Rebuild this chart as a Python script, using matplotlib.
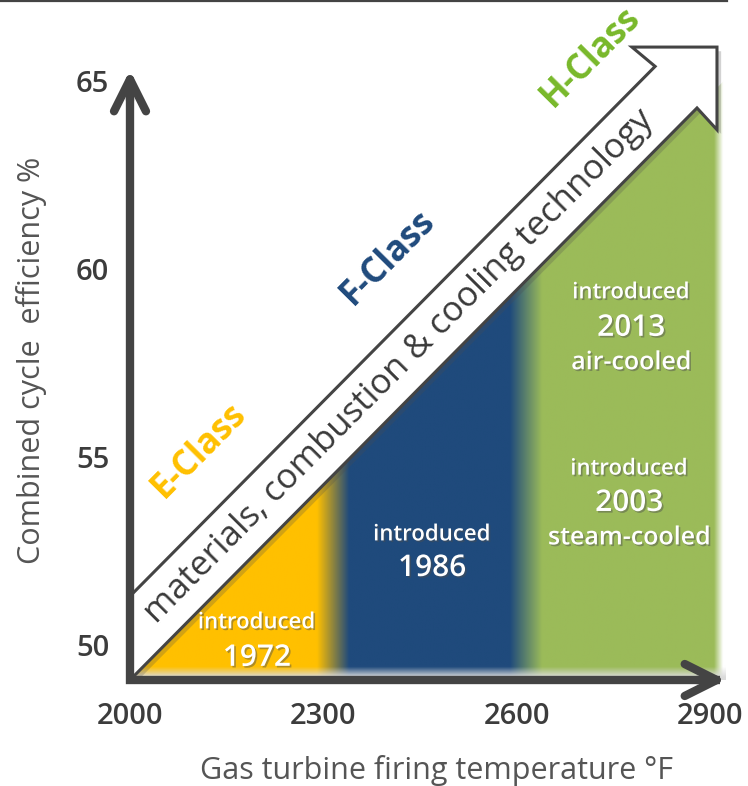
import numpy as np
import matplotlib.pyplot as plt
import matplotlib.patheffects as pe
from matplotlib.patches import Polygon
from matplotlib.lines import Line2D
from matplotlib.colors import to_rgb

plt.rcParams['font.family'] = ['Open Sans', 'DejaVu Sans']

# axes
temp_ticks = [2000, 2300, 2600, 2900]
eff_ticks = [50, 55, 60, 65]
x_title = 'Gas turbine firing temperature °F'
y_title = 'Combined cycle  efficiency %'

# turbine classes and the temperature span each one covers
class_names = ['E-Class', 'F-Class', 'H-Class']
class_edges = [2000, 2315, 2615, 2915]
class_fill = ['#FFC000', '#1F4A7C', '#9BBB59']
class_text = ['#FFC000', '#1F4A7C', '#78B82A']

# introductions
intro_years = ['1972', '1986', '2003', '2013']
intro_notes = ['', '', 'steam-cooled', 'air-cooled']

# efficiency trend (lower edge of the big arrow)
trend_T = [2000, 2880]
trend_E = [49.07, 64.29]
band_E = 2.23  # arrow thickness in efficiency points
arrow_text = 'materials, combustion & cooling technology'

E0 = trend_E[0]
slope = (trend_E[1] - trend_E[0]) / (trend_T[1] - trend_T[0])


def trend(t):
    return E0 + (t - trend_T[0]) * slope


fig = plt.figure(figsize=(7.48, 7.86), dpi=100, facecolor='w')
ax = fig.add_axes([130 / 748, 106 / 786, 596 / 748, 610 / 786])
ax.set_xlim(2000, 2925)
ax.set_ylim(E0, 65.3)
for sp in ax.spines.values():
    sp.set_visible(False)

ax.set_xticks(temp_ticks)
ax.set_xticklabels([str(t) for t in temp_ticks])
ax.set_yticks(eff_ticks)
ax.set_yticklabels([str(e) for e in eff_ticks])
ax.tick_params(axis='x', length=0, pad=16, labelsize=21, labelcolor='#3c3c3c')
ax.tick_params(axis='y', length=0, pad=15, labelsize=21, labelcolor='#3c3c3c')
for lab in ax.get_xticklabels() + ax.get_yticklabels():
    lab.set_fontweight('semibold')

fig.text(436 / 748, 1 - 770 / 786, x_title, ha='center', va='center',
         fontsize=22, color='#555555')
fig.text(32 / 748, 1 - 360 / 786, y_title, ha='center', va='center',
         rotation=90, fontsize=22, color='#555555')

# top rule
fig.add_artist(Line2D([0, 727 / 748], [1 - 1 / 786] * 2,
                      transform=fig.transFigure, color='#444444', lw=1.6))

# coloured area under the trend, soft blends between the classes
nx, ny = 900, 300
tt = np.linspace(2000, 2925, nx)
ee = np.linspace(E0, 65.3, ny)
blend = 25
pts, cols = [], []
for i, c in enumerate(class_fill):
    lo = class_edges[i] + (blend if i > 0 else 0)
    hi = class_edges[i + 1] - (blend if i < len(class_fill) - 1 else 8)
    pts += [lo, hi]
    cols += [to_rgb(c), to_rgb(c)]
pts += [class_edges[-1] + 6]
cols += [(1, 1, 1)]
cols = np.array(cols)
row = np.stack([np.interp(tt, pts, cols[:, k]) for k in range(3)], axis=-1)
img = np.repeat(row[None, :, :], ny, axis=0)
fade = np.clip((ee - E0 - 0.05) / 0.28, 0, 1)[:, None, None]
img = img * fade + np.array([0.86, 0.86, 0.86]) * (1 - fade)
im = ax.imshow(img, extent=[2000, 2925, E0, 65.3], origin='lower',
               aspect='auto', interpolation='bilinear', zorder=1)
clip = Polygon([(2000, E0), (2925, trend(2925)), (2925, E0)], closed=True,
               transform=ax.transData)
im.set_clip_path(clip)

# big arrow
up = band_E
head_T = 2911
verts = [
    (trend_T[0], trend(trend_T[0])),
    (trend_T[1], trend(trend_T[1])),
    (head_T, 63.71),
    (head_T, 65.91),
    (2779, 65.91),
    (2815, trend(2815) + up),
    (trend_T[0], trend(trend_T[0]) + up),
]
arrow = Polygon(verts, closed=True, facecolor='white', edgecolor='#444444',
                lw=2.2, joinstyle='miter', zorder=3, clip_on=False,
                path_effects=[pe.SimplePatchShadow(offset=(3, -3), alpha=0.25),
                              pe.Normal()])
ax.add_patch(arrow)

# angle of the trend on screen
p1 = ax.transData.transform((2000, trend(2000)))
p2 = ax.transData.transform((2800, trend(2800)))
ang = np.degrees(np.arctan2(p2[1] - p1[1], p2[0] - p1[0]))

ax.text(2418, trend(2418) + up / 2, arrow_text, rotation=ang,
        rotation_mode='anchor', ha='center', va='center', fontsize=25,
        color='#3a3a3a', zorder=4)

# axes arrows
ax.plot([2000, 2000, 2915], [65.0, E0, E0], color='#444444', lw=6,
        solid_joinstyle='miter', solid_capstyle='butt', zorder=5, clip_on=False)
for tip, start in [((2925, E0), (2880, E0)), ((2000, 65.3), (2000, 64.5))]:
    ax.annotate('', xy=tip, xytext=start,
                arrowprops=dict(arrowstyle='->,head_length=1.0,head_width=0.5',
                                mutation_scale=23, lw=6, color='#444444',
                                capstyle='round', joinstyle='round',
                                shrinkA=0, shrinkB=0),
                annotation_clip=False, zorder=5)

# class names along the arrow
name_pos = [(2108, 55.19), (2400, 60.30), (2715, 65.65)]
for name, col, (t, e) in zip(class_names, class_text, name_pos):
    ax.text(t, e, name, rotation=ang, rotation_mode='anchor', ha='center',
            va='center', fontsize=25, fontweight='bold', color=col,
            zorder=6, clip_on=False)

# introduction notes
shadow = [pe.SimplePatchShadow(offset=(1.2, -1.2), alpha=0.45), pe.Normal()]
note_pos = [(2197, [50.59, 49.66]), (2469, [52.93, 52.05]),
            (2775, [54.68, 53.78, 52.85]), (2778, [59.37, 58.44, 57.51])]
for yr, note, (t, es) in zip(intro_years, intro_notes, note_pos):
    lines = [('introduced', 16), (yr, 21.5)]
    if note:
        lines.append((note, 18))
    for (s, fs), e in zip(lines, es):
        ax.text(t, e, s, ha='center', va='center', fontsize=fs,
                fontweight='semibold', color='white', zorder=4,
                path_effects=shadow)

fig.savefig('out.png', dpi=100, facecolor=fig.get_facecolor())
